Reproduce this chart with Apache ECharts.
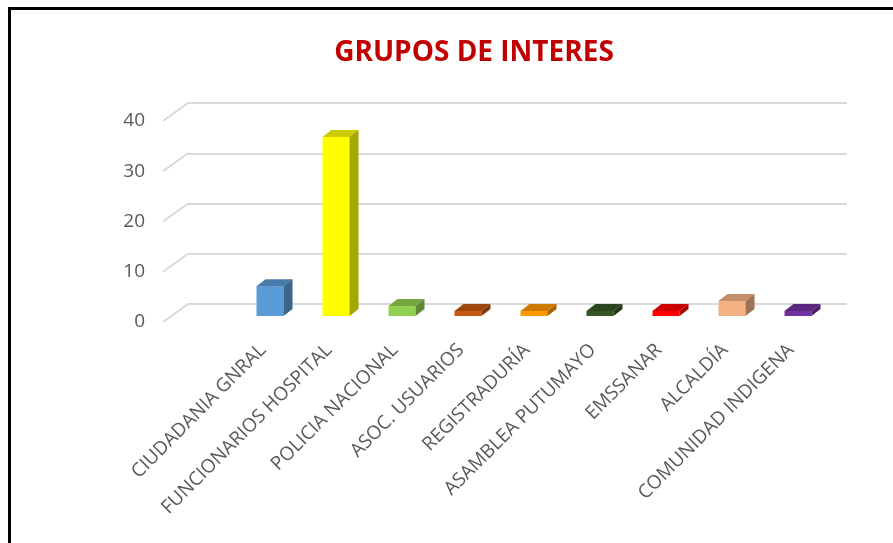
<!DOCTYPE html>
<html>
<head>
<meta charset="utf-8">
<script src="https://cdn.jsdelivr.net/npm/echarts@6/dist/echarts.min.js"></script>
<style>
html,body{margin:0;padding:0;background:#fff}
#main{width:893px;height:543px}
</style>
</head>
<body>
<div id="main"></div>
<script>
// datos del grafico
var categories = ['CIUDADANIA GNRAL', 'FUNCIONARIOS HOSPITAL', 'POLICIA NACIONAL', 'ASOC. USUARIOS',
    'REGISTRADURÍA', 'ASAMBLEA PUTUMAYO', 'EMSSANAR', 'ALCALDÍA', 'COMUNIDAD INDIGENA'];
var values = [6, 36, 2, 1, 1, 1, 1, 3, 1];
var yTicks = [0, 10, 20, 30, 40];

// colores de cada columna (cara frontal)
var colors = ['#5b9bd5', '#ffff00', '#92d050', '#c55a11', '#ff9900', '#375623', '#ff0000', '#f4b183', '#7030a0'];

function shade(hex, f) {
    var n = parseInt(hex.slice(1), 16);
    var r = Math.round(((n >> 16) & 255) * f);
    var g = Math.round(((n >> 8) & 255) * f);
    var b = Math.round((n & 255) * f);
    return 'rgb(' + r + ',' + g + ',' + b + ')';
}

var chart = echarts.init(document.getElementById('main'));

var labelColor = '#595959';
var font = 'Open Sans';

var option = {
    backgroundColor: '#fff',
    animation: false,
    title: {
        text: 'GRUPOS DE INTERES',
        left: 469,
        top: 34,
        textAlign: 'center',
        textStyle: { color: '#c00000', fontSize: 28, fontWeight: 'bold', fontFamily: font }
    },
    graphic: [
        { type: 'rect', shape: { x: 8, y: 7, width: 885, height: 3 }, style: { fill: '#000' } },
        { type: 'rect', shape: { x: 8, y: 7, width: 3, height: 536 }, style: { fill: '#000' } }
    ],
    grid: [
        // columnas
        { left: 237, right: 62, top: 117, bottom: 227 },
        // pared del fondo
        { left: 188, right: 46, top: 103, bottom: 239 },
        // borde frontal (etiquetas del eje)
        { left: 163, right: 600, top: 121, bottom: 221 }
    ],
    xAxis: [
        {
            type: 'category', gridIndex: 0, data: categories,
            axisLine: { show: false }, axisTick: { show: false },
            axisLabel: {
                rotate: 45, interval: 0, margin: 24, padding: [0, 10, 0, 0],
                color: labelColor, fontSize: 19, fontFamily: font
            }
        },
        { type: 'value', gridIndex: 1, min: 0, max: 1, show: false },
        { type: 'value', gridIndex: 2, min: 0, max: 1, show: false }
    ],
    yAxis: [
        { type: 'value', gridIndex: 0, min: 0, max: 40, interval: 10, show: false },
        {
            type: 'value', gridIndex: 1, min: 0, max: 40, interval: 10,
            axisLine: { show: false }, axisTick: { show: false }, axisLabel: { show: false },
            splitLine: { lineStyle: { color: '#d9d9d9', width: 2 } }
        },
        {
            type: 'value', gridIndex: 2, min: 0, max: 40, interval: 10,
            axisLine: { show: false }, axisTick: { show: false }, splitLine: { show: false },
            axisLabel: { margin: 18, color: labelColor, fontSize: 19, fontFamily: font }
        }
    ],
    series: [
        {
            // lineas diagonales del piso / pared
            type: 'custom',
            xAxisIndex: 2, yAxisIndex: 2,
            silent: true,
            data: yTicks.map(function (v) { return [0, v]; }),
            renderItem: function (params, api) {
                var p = api.coord([0, api.value(1)]);
                return {
                    type: 'line',
                    shape: { x1: p[0], y1: p[1], x2: p[0] + 25, y2: p[1] - 18 },
                    style: { stroke: '#d9d9d9', lineWidth: 2 }
                };
            }
        },
        {
            // columnas 3D
            type: 'custom',
            xAxisIndex: 0, yAxisIndex: 0,
            data: values.map(function (v, i) { return [i, v]; }),
            renderItem: function (params, api) {
                var i = api.value(0);
                var top = api.coord([i, api.value(1)]);
                var base = api.coord([i, 0]);
                var w = 27, dx = 9, dy = 7;
                var x0 = top[0] - w / 2;
                var ty = top[1], by = base[1];
                var c = colors[i];
                return {
                    type: 'group',
                    children: [
                        { type: 'rect', shape: { x: x0, y: ty, width: w, height: by - ty }, style: { fill: c } },
                        { type: 'polygon', shape: { points: [[x0, ty], [x0 + dx, ty - dy], [x0 + w + dx, ty - dy], [x0 + w, ty]] }, style: { fill: shade(c, 0.8) } },
                        { type: 'polygon', shape: { points: [[x0 + w, ty], [x0 + w + dx, ty - dy], [x0 + w + dx, by - dy], [x0 + w, by]] }, style: { fill: shade(c, 0.65) } }
                    ]
                };
            }
        }
    ]
};

chart.setOption(option);
</script>
</body>
</html>
